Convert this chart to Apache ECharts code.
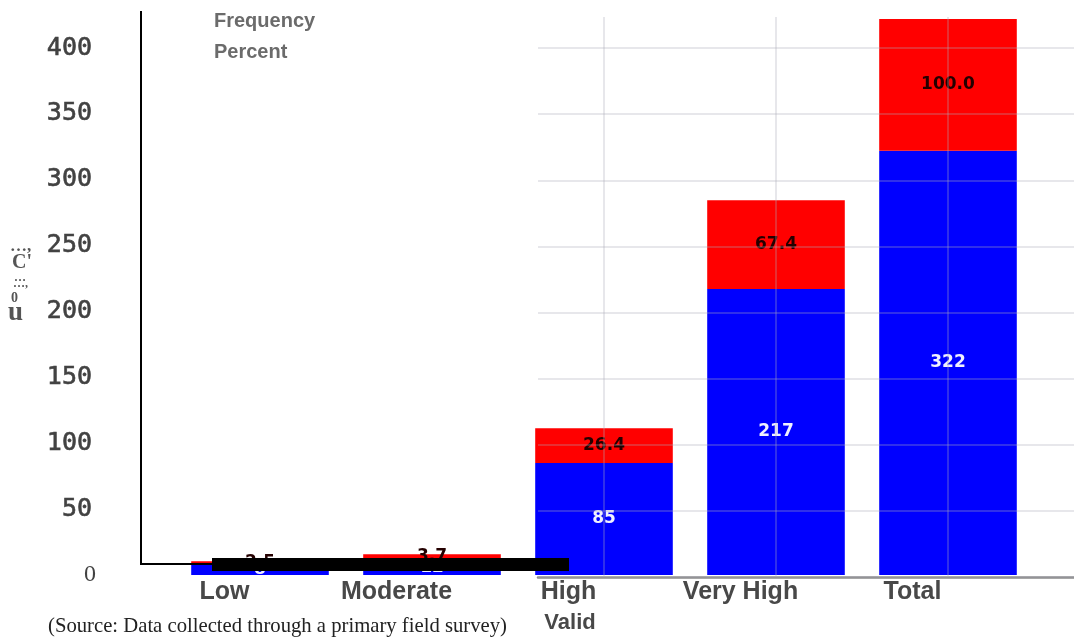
<!DOCTYPE html>
<html>
<head>
<meta charset="utf-8">
<script src="https://cdn.jsdelivr.net/npm/echarts@6/dist/echarts.min.js"></script>
<style>
  html, body { margin: 0; padding: 0; background: #fff; }
  #chart { width: 1074px; height: 639px; }
</style>
</head>
<body>
<div id="chart"></div>
<script>
// Risk level categories (valid responses) and their counts / shares
const categories = ['Low', 'Moderate', 'High', 'Very High', 'Total'];
const frequency = [8, 12, 85, 217, 322];
const percent = [2.5, 3.7, 26.4, 67.4, 100.0];
const gridCategories = ['High', 'Very High', 'Total'];
const yMin = 0;
const yMax = 400;
const yStep = 50;
const sourceNote = '(Source: Data collected through a primary field survey)';

const chart = echarts.init(document.getElementById('chart'), null, { renderer: 'canvas' });

const barLabelFont = '"DejaVu Sans", sans-serif';
const guideColor = 'rgba(170,170,185,0.38)';

const option = {
  animation: false,
  backgroundColor: '#ffffff',
  title: {
    text: sourceNote,
    left: 48,
    top: 616,
    padding: 0,
    textStyle: {
      fontFamily: '"Liberation Serif", serif',
      fontSize: 20.7,
      fontWeight: 'normal',
      color: '#222222'
    }
  },
  legend: {
    orient: 'vertical',
    left: 209,
    top: 11,
    padding: 0,
    itemWidth: 0,
    itemHeight: 0,
    itemGap: 11,
    icon: 'rect',
    selectedMode: false,
    textStyle: {
      fontFamily: '"Liberation Sans", Arial, sans-serif',
      fontSize: 20,
      fontWeight: 'bold',
      color: '#6b6b6b'
    },
    data: ['Frequency', 'Percent']
  },
  grid: [
    // bars
    { left: 174, right: 40, top: 48, bottom: 62, containLabel: false },
    // horizontal guide lines and baseline on the right part
    { left: 538, right: 0, top: 48, bottom: 62, containLabel: false },
    // vertical guide lines through the category centres
    { left: 174, right: 40, top: 17, bottom: 62, containLabel: false }
  ],
  xAxis: [
    {
      type: 'category',
      gridIndex: 0,
      data: categories,
      axisLine: { show: false },
      axisTick: { show: false },
      splitLine: { show: false },
      axisLabel: {
        margin: 5,
        padding: [0, 71, 0, 0],
        fontFamily: '"Liberation Sans", Arial, sans-serif',
        fontSize: 25,
        fontWeight: 'bold',
        color: '#484848'
      },
      name: 'Valid',
      nameLocation: 'middle',
      nameGap: 37,
      nameTextStyle: {
        fontFamily: '"Liberation Sans", Arial, sans-serif',
        fontSize: 22,
        fontWeight: 'bold',
        color: '#484848',
        padding: [0, 68, 0, 0]
      }
    },
    {
      type: 'value',
      gridIndex: 1,
      min: 0,
      max: 1,
      axisLine: { show: true, onZero: false, lineStyle: { color: '#8a8a8a', width: 2.5 } },
      axisTick: { show: false },
      axisLabel: { show: false },
      splitLine: { show: false }
    },
    {
      type: 'category',
      gridIndex: 2,
      data: categories,
      show: false
    }
  ],
  yAxis: [
    {
      type: 'value',
      gridIndex: 0,
      min: yMin,
      max: yMax,
      interval: yStep,
      axisLine: { show: false },
      axisTick: { show: false },
      splitLine: { show: false },
      axisLabel: {
        margin: 82,
        formatter: function (v) {
          return v === 0 ? '{z|0}' : '{m|' + v + '}';
        },
        rich: {
          m: {
            fontFamily: '"DejaVu Sans Mono", monospace',
            fontSize: 25,
            color: '#424242',
            textBorderColor: '#424242',
            textBorderWidth: 0.6
          },
          z: {
            fontFamily: '"Liberation Serif", serif',
            fontSize: 24,
            color: '#424242',
            padding: [0, -4, 0, 0]
          }
        }
      }
    },
    {
      type: 'value',
      gridIndex: 1,
      min: yMin,
      max: yMax,
      interval: yStep,
      z: 3,
      axisLine: { show: false },
      axisTick: { show: false },
      axisLabel: { show: false },
      splitLine: { show: true, lineStyle: { color: guideColor, width: 1.5 } }
    },
    {
      type: 'value',
      gridIndex: 2,
      show: false
    }
  ],
  series: [
    {
      name: 'Frequency',
      type: 'bar',
      stack: 'valid',
      xAxisIndex: 0,
      yAxisIndex: 0,
      barWidth: '80%',
      clip: false,
      data: frequency,
      itemStyle: { color: '#0000ff' },
      label: {
        show: true,
        position: 'inside',
        fontFamily: barLabelFont,
        fontSize: 17,
        fontWeight: 'bold',
        color: '#f0f0ff'
      }
    },
    {
      name: 'Percent',
      type: 'bar',
      stack: 'valid',
      xAxisIndex: 0,
      yAxisIndex: 0,
      barWidth: '80%',
      clip: false,
      data: percent,
      itemStyle: { color: '#ff0000' },
      label: {
        show: true,
        position: 'inside',
        fontFamily: barLabelFont,
        fontSize: 17,
        fontWeight: 'bold',
        color: '#240000',
        formatter: function (p) { return p.value.toFixed(1); }
      }
    },
    {
      // carrier for the vertical guide lines
      name: 'guides',
      type: 'line',
      xAxisIndex: 2,
      yAxisIndex: 2,
      z: 4,
      silent: true,
      data: [],
      markLine: {
        silent: true,
        symbol: 'none',
        label: { show: false },
        emphasis: { disabled: true },
        lineStyle: { color: guideColor, width: 1.5, type: 'solid' },
        data: gridCategories.map(function (c) { return { xAxis: c }; })
      }
    }
  ],
  graphic: [
    // frame lines on the left side
    {
      type: 'polyline',
      z: 10,
      shape: { points: [[141, 11], [141, 564], [212, 564]] },
      style: { stroke: '#000000', lineWidth: 2, fill: null }
    },
    {
      type: 'rect',
      z: 10,
      shape: { x: 212, y: 558, width: 357, height: 13 },
      style: { fill: '#000000' }
    },
    // vertical axis title
    {
      type: 'group',
      left: 8,
      top: 238,
      children: [
        { type: 'text', x: 3, y: 0, style: { text: '\u2026,', font: 'bold 17px "Liberation Serif", serif', fill: '#555555' } },
        { type: 'text', x: 5, y: 15, style: { text: "C'", font: 'bold 20px "Liberation Serif", serif', fill: '#555555' } },
        { type: 'text', x: 7, y: 34, style: { text: '\u2026', font: 'bold 12px "Liberation Serif", serif', fill: '#555555' } },
        { type: 'text', x: 6, y: 40, style: { text: '\u2026,', font: 'bold 12px "Liberation Serif", serif', fill: '#555555' } },
        { type: 'text', x: 4, y: 53, style: { text: '0', font: 'bold 14px "Liberation Serif", serif', fill: '#555555' } },
        { type: 'text', x: 1, y: 62, style: { text: 'u', font: 'bold 27px "Liberation Serif", serif', fill: '#555555' } }
      ]
    }
  ]
};

chart.setOption(option);
</script>
</body>
</html>
